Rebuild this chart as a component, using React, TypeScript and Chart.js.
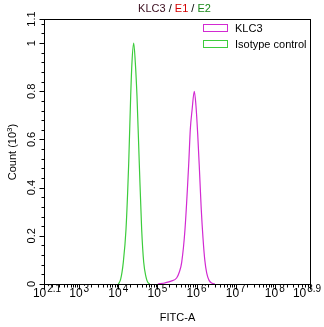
import React, { useEffect, useRef } from "react";
import { Chart, registerables } from "chart.js";

Chart.register(...registerables);

// log10(FITC-A) positions and counts (x10^3)
const klc3LogX = [5.01, 5.2, 5.35, 5.49, 5.56, 5.62, 5.704, 5.8, 5.841, 5.884, 5.942, 5.985, 6.03, 6.075, 6.12, 6.165, 6.21, 6.26, 6.32, 6.4, 6.47];
const klc3Count = [0, 0.005, 0.012, 0.025, 0.05, 0.09, 0.226, 0.5, 0.644, 0.72, 0.8, 0.74, 0.62, 0.47, 0.31, 0.19, 0.1, 0.045, 0.015, 0.003, 0];
const isoLogX = [4.0, 4.06, 4.127, 4.196, 4.265, 4.316, 4.349, 4.393, 4.434, 4.477, 4.536, 4.597, 4.649, 4.707, 4.75, 4.8];
const isoCount = [0, 0.02, 0.09, 0.226, 0.5, 0.78, 0.92, 1.0, 0.92, 0.78, 0.5, 0.226, 0.09, 0.03, 0.008, 0];

const xMajorTicks = [2.1, 3, 4, 5, 6, 7, 8, 8.9];
const xTickExp = ["2.1", "3", "4", "5", "6", "7", "8", "8.9"];
const yMajorTicks = [0, 0.2, 0.4, 0.6, 0.8, 1, 1.1];
const yTickLabels = ["0", "0.2", "0.4", "0.6", "0.8", "1", "1.1"];
const seriesNames = ["KLC3", "Isotype control"];
const seriesColors = ["#d22ad2", "#3ccc3c"];

const FONT = 'Arial, "Liberation Sans", sans-serif';

const axesPlugin = {
  id: "flowAxes",
  afterDraw(chart: any) {
    const ctx = chart.ctx as CanvasRenderingContext2D;
    const xs = chart.scales.x;
    const ys = chart.scales.y;
    const a = chart.chartArea;
    const L = Math.round(a.left) + 0.5;
    const R = Math.round(a.right) + 0.5;
    const T = Math.round(a.top) + 0.5;
    const B = Math.round(a.bottom) + 0.5;
    ctx.save();
    ctx.strokeStyle = "#000";
    ctx.lineWidth = 1;
    ctx.strokeRect(L, T, R - L, B - T);

    // x ticks
    ctx.beginPath();
    for (const v of xMajorTicks) {
      const px = Math.round(xs.getPixelForValue(v)) + 0.5;
      ctx.moveTo(px, B);
      ctx.lineTo(px, B + 5);
    }
    for (let d = 2; d <= 8; d++) {
      for (let m = 2; m <= 9; m++) {
        const lv = d + Math.log10(m);
        if (lv <= 2.1 || lv >= 8.9) continue;
        const px = Math.round(xs.getPixelForValue(lv)) + 0.5;
        ctx.moveTo(px, B);
        ctx.lineTo(px, B + 3);
      }
    }
    // y ticks
    for (const v of yMajorTicks) {
      const py = Math.round(ys.getPixelForValue(v)) + 0.5;
      ctx.moveTo(L, py);
      ctx.lineTo(L - 5, py);
    }
    for (let i = 1; i <= 27; i++) {
      const v = i * 0.04;
      if (i % 5 === 0) continue;
      const py = Math.round(ys.getPixelForValue(v)) + 0.5;
      ctx.moveTo(L, py);
      ctx.lineTo(L - 3, py);
    }
    ctx.stroke();

    ctx.fillStyle = "#000";
    // x labels
    xMajorTicks.forEach((v, i) => {
      let px = xs.getPixelForValue(v);
      if (i === 0) px += 3;
      if (i === xMajorTicks.length - 1) px -= 3;
      ctx.font = "12px " + FONT;
      const wb = ctx.measureText("10").width;
      ctx.font = "10px " + FONT;
      const we = ctx.measureText(xTickExp[i]).width;
      const total = wb + 1 + we;
      const x0 = px - total / 2;
      ctx.textAlign = "left";
      ctx.textBaseline = "alphabetic";
      ctx.font = "12px " + FONT;
      ctx.fillText("10", x0, B + 12);
      ctx.font = "10px " + FONT;
      ctx.fillText(xTickExp[i], x0 + wb + 1, B + 7);
    });

    // y labels (rotated)
    ctx.font = "11px " + FONT;
    yMajorTicks.forEach((v, i) => {
      const py = ys.getPixelForValue(v);
      ctx.save();
      ctx.translate(L - 8, py);
      ctx.rotate(-Math.PI / 2);
      ctx.textAlign = "center";
      ctx.textBaseline = "bottom";
      ctx.fillText(yTickLabels[i], 0, 1);
      ctx.restore();
    });

    // x title
    ctx.font = "11px " + FONT;
    ctx.textAlign = "center";
    ctx.textBaseline = "alphabetic";
    ctx.fillText("FITC-A", (L + R) / 2, 321);

    // y title rotated with superscript
    ctx.save();
    ctx.translate(16, (T + B) / 2);
    ctx.rotate(-Math.PI / 2);
    ctx.font = "11px " + FONT;
    const p1 = "Count (10";
    const p2 = "3";
    const p3 = ")";
    const w1 = ctx.measureText(p1).width;
    const w3 = ctx.measureText(p3).width;
    ctx.font = "8px " + FONT;
    const w2 = ctx.measureText(p2).width;
    const tw = w1 + w2 + w3;
    let cx = -tw / 2;
    ctx.textAlign = "left";
    ctx.textBaseline = "alphabetic";
    ctx.font = "11px " + FONT;
    ctx.fillText(p1, cx, 0);
    cx += w1;
    ctx.font = "8px " + FONT;
    ctx.fillText(p2, cx, -4);
    cx += w2;
    ctx.font = "11px " + FONT;
    ctx.fillText(p3, cx, 0);
    ctx.restore();

    // title
    const parts: [string, string][] = [
      ["KLC3", "#3a0d1e"],
      [" / ", "#000"],
      ["E1", "#d40000"],
      [" / ", "#000"],
      ["E2", "#1a8a1a"],
    ];
    ctx.font = "11px " + FONT;
    let total = 0;
    for (const [s] of parts) total += ctx.measureText(s).width;
    let tx = (L + R) / 2 - total / 2 - 3;
    ctx.textAlign = "left";
    ctx.textBaseline = "alphabetic";
    for (const [s, c] of parts) {
      ctx.fillStyle = c;
      ctx.fillText(s, tx, 12);
      tx += ctx.measureText(s).width;
    }

    // legend
    const legY = [28, 44];
    seriesNames.forEach((name, i) => {
      const y = legY[i];
      ctx.fillStyle = "#fff";
      ctx.fillRect(203.5, y - 3.5, 24, 7);
      ctx.strokeStyle = seriesColors[i];
      ctx.lineWidth = 1;
      ctx.strokeRect(203.5, y - 3.5, 24, 7);
      ctx.fillStyle = "#000";
      ctx.font = "11px " + FONT;
      ctx.textAlign = "left";
      ctx.textBaseline = "middle";
      ctx.fillText(name, 235, y + 0.5);
    });
    ctx.restore();
  },
};

export default function App() {
  const ref = useRef<HTMLCanvasElement | null>(null);
  useEffect(() => {
    if (!ref.current) return;
    const chart = new Chart(ref.current, {
      type: "line",
      data: {
        datasets: [
          {
            label: seriesNames[0],
            data: klc3LogX.map((x, i) => ({ x, y: klc3Count[i] })),
            borderColor: seriesColors[0],
            borderWidth: 1.2,
            pointRadius: 0,
            cubicInterpolationMode: "monotone",
            fill: false,
          },
          {
            label: seriesNames[1],
            data: isoLogX.map((x, i) => ({ x, y: isoCount[i] })),
            borderColor: seriesColors[1],
            borderWidth: 1.2,
            pointRadius: 0,
            cubicInterpolationMode: "monotone",
            fill: false,
          },
        ],
      },
      options: {
        responsive: false,
        animation: false,
        devicePixelRatio: 1,
        layout: { padding: { left: 44, right: 14, top: 19, bottom: 43 } },
        plugins: { legend: { display: false }, tooltip: { enabled: false }, title: { display: false } },
        scales: {
          x: { type: "linear", min: 2.1, max: 8.9, display: false },
          y: { type: "linear", min: 0, max: 1.1, display: false },
        },
      },
      plugins: [axesPlugin],
    });
    return () => chart.destroy();
  }, []);
  return (
    <div style={{ position: "absolute", left: 0, top: 0, width: 324, height: 327, background: "#fff" }}>
      <canvas ref={ref} width={324} height={327} />
    </div>
  );
}
